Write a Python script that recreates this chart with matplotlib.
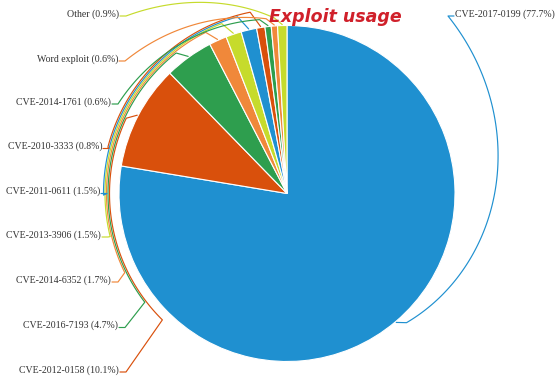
import numpy as np
import matplotlib
matplotlib.use("Agg")
import matplotlib.pyplot as plt

# ---------------- data ----------------
names = ["CVE-2017-0199", "CVE-2012-0158", "CVE-2016-7193", "CVE-2014-6352",
         "CVE-2013-3906", "CVE-2011-0611", "CVE-2010-3333", "CVE-2014-1761",
         "Word exploit", "Other"]
values = [77.7, 10.1, 4.7, 1.7, 1.5, 1.5, 0.8, 0.6, 0.6, 0.9]
colors = ["#1f90d0", "#d9500c", "#2e9e4e", "#f0883a", "#c6db2c",
          "#1f90d0", "#d9500c", "#2e9e4e", "#f0883a", "#c6db2c"]
title = "Exploit usage"

# ---------------- layout (pixel coords, y from top) ----------------
W, H = 559, 380
CX, CY_PX, R = 287, 193.5, 168
label_x = [455, 119, 118, 111, 101, 100, 102, 111, 118, 119]
label_y = [14, 370, 325.5, 280, 235, 191.5, 146.5, 102, 59, 14]
route = ["spiral", "arc", "arc", "arc", "arc", "arc", "arc", "spiral", "spiral", "spiral"]
arc_r = [None, 177.5, 179, 180.5, 182, 183.5, 185, None, None, None]
turn_deg = [None, 225.4, 217.4, 206, 193.7, 180.5, 165.5, None, None, None]
TICK = 6

fig = plt.figure(figsize=(W / 100, H / 100), dpi=100)
ax = fig.add_axes([0, 0, 1, 1])
cy = H - CY_PX
wedges, _ = ax.pie(values, colors=colors, startangle=90, counterclock=False,
                   center=(CX, cy), radius=R,
                   wedgeprops=dict(edgecolor="white", linewidth=0.8))
ax.set_xlim(0, W)
ax.set_ylim(0, H)
ax.set_aspect("equal")
ax.axis("off")


def P(theta, r):
    t = np.deg2rad(theta)
    return CX + r * np.cos(t), cy + r * np.sin(t)


for i, w in enumerate(wedges):
    mid = (w.theta1 + w.theta2) / 2.0
    right = i == 0
    if right:
        mid = ((mid + 180) % 360) - 180
    else:
        mid = mid % 360
    ty = H - (label_y[i] + 2)
    xs, ys = [], []
    x0, y0 = P(mid, R + 1)
    xs.append(x0); ys.append(y0)
    if right:
        tick_end = label_x[i] - 7
    else:
        tick_end = label_x[i] + 1 + TICK
    if route[i] == "arc":
        th = np.linspace(mid + 2.5, turn_deg[i], 80)
        for t in th:
            x, y = P(t, arc_r[i]); xs.append(x); ys.append(y)
        xs.append(tick_end); ys.append(ty)
    else:
        dx, dy = tick_end - CX, ty - cy
        ta = np.rad2deg(np.arctan2(dy, dx))
        if not right:
            ta = ta % 360
        ra = np.hypot(dx, dy)
        th = np.linspace(mid + 2.5, ta, 120)
        rr = np.linspace(R + 8, ra, 120)
        for t, r in zip(th, rr):
            x, y = P(t, r); xs.append(x); ys.append(y)
    if right:
        xs.append(label_x[i] - 1); ys.append(ty)
    else:
        xs.append(label_x[i] + 1); ys.append(ty)
    ax.plot(xs, ys, color=colors[i], lw=0.85, solid_capstyle="round", zorder=3)
    txt = f"{names[i]} ({values[i]}%)"
    ax.text(label_x[i], H - label_y[i], txt, ha="left" if right else "right",
            va="center", fontsize=7.1, family="Liberation Serif", color="#333333",
            zorder=4)

ax.text(335, H - 17, title, ha="center", va="center", fontsize=12.5,
        fontweight="bold", style="italic", color="#d0202a", zorder=6)

fig.savefig("out.png", dpi=100)
